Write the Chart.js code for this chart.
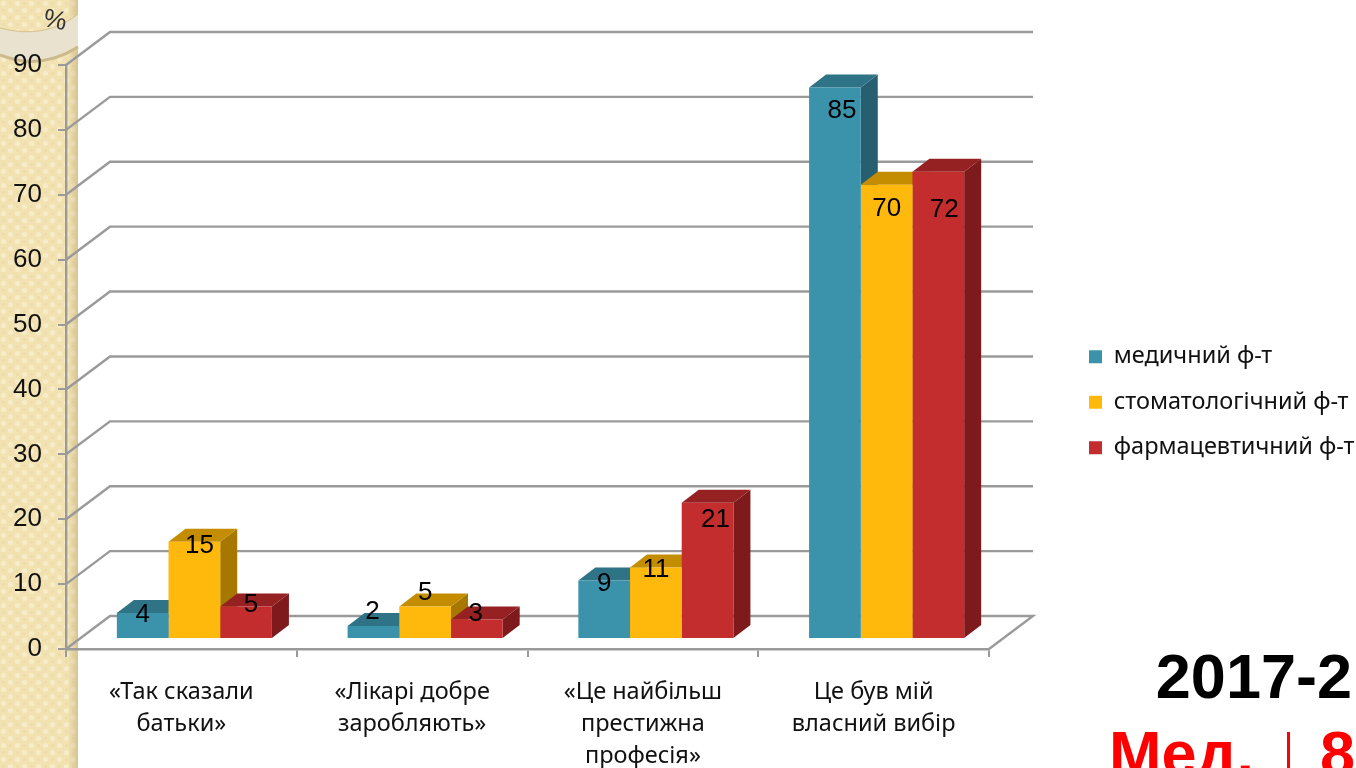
<!DOCTYPE html>
<html><head><meta charset="utf-8">
<style>html,body{margin:0;padding:0;background:#fff;overflow:hidden}canvas{display:block}</style>
<script src="https://cdn.jsdelivr.net/npm/chart.js@4/dist/chart.umd.min.js"></script>
</head><body><canvas id="c" width="1356" height="768"></canvas>
<script>
const categories = [["«Так сказали","батьки»"],["«Лікарі добре","заробляють»"],["«Це найбільш","престижна","професія»"],["Це був мій","власний вибір"]];
const medValues = [4,2,9,85];
const stomValues = [15,5,11,70];
const pharmValues = [5,3,21,72];
const seriesNames = ["медичний ф-т","стоматологічний ф-т","фармацевтичний ф-т"];
const yTicks = [0,10,20,30,40,50,60,70,80,90];

// styling / layout (not data)
const faceColors = ["#3A93AB","#FFB80C","#C32D2E"];
const topColors = ["#2F7387","#C48D00","#952122"];
const sideColors = ["#285F70","#A67800","#7E1A1B"];
const BAR_DX=13, BAR_DY=-10, DEPTH_X=17, DEPTH_Y=-13, WALL_X=44, WALL_Y=-33;
const labelNudge = [
  [[0,2],[-1,-14],[0,3],[7,23]],
  [[5,4],[0,-14],[0,2],[0,24]],
  [[5,-2],[-1,-6],[8,17],[6,38]]
];
const grey="#9A9A9A";

function makeTile(){
  const t=document.createElement('canvas');t.width=t.height=14;
  const g=t.getContext('2d');
  g.fillStyle='#F2E2B2';g.fillRect(0,0,14,14);
  g.fillStyle='#F7ECC8';
  g.beginPath();g.arc(3.5,3.5,2.6,0,7);g.fill();
  g.beginPath();g.arc(10.5,10.5,2.6,0,7);g.fill();
  g.fillStyle='#EDDCAA';
  g.beginPath();g.arc(10.5,3.5,1.5,0,7);g.fill();
  g.beginPath();g.arc(3.5,10.5,1.5,0,7);g.fill();
  return t;
}

const backdrop={id:'backdrop',
  beforeLayout(chart){
    const l=chart.legend;
    if(l && !l._wrapped){const f=l.fit;l.fit=function(){f.call(this);this.width=367;};l._wrapped=true;}
  },
  afterLayout(chart){
    const l=chart.legend;
    l.left=1067;l.right=1356;l.top=323;l.bottom=768;
  },
  beforeDraw(chart){
    const c=chart.ctx;c.save();
    c.fillStyle='#fff';c.fillRect(0,0,1356,768);
    c.fillStyle=c.createPattern(makeTile(),'repeat');c.fillRect(0,0,78,768);
    const g=c.createLinearGradient(68,0,78,0);
    g.addColorStop(0,'rgba(190,170,120,0)');g.addColorStop(1,'rgba(190,170,120,.55)');
    c.fillStyle=g;c.fillRect(68,0,10,768);
    // ornament band
    c.beginPath();c.moveTo(0,28);c.quadraticCurveTo(45,40,78,14);c.lineTo(78,46);c.quadraticCurveTo(40,70,0,54);c.closePath();
    c.fillStyle='#E8E2CF';c.fill();
    c.beginPath();c.moveTo(0,28);c.quadraticCurveTo(45,40,78,14);c.strokeStyle='#D6C08C';c.lineWidth=1;c.stroke();
    c.beginPath();c.moveTo(0,55);c.quadraticCurveTo(40,71,78,47);c.strokeStyle='#CDB98E';c.lineWidth=3;c.stroke();
    c.save();c.translate(55,21);c.rotate(0.2);c.fillStyle='#333';c.font='26px "Liberation Sans"';c.textAlign='center';c.textBaseline='middle';c.fillText('%',0,0);c.restore();
    // 3D wall
    const ya=chart.scales.y,a=chart.chartArea;
    c.strokeStyle=grey;c.lineWidth=2.4;c.lineJoin='miter';
    yTicks.forEach(v=>{
      const y=ya.getPixelForValue(v);
      c.beginPath();c.moveTo(a.left,y);c.lineTo(a.left+WALL_X,y+WALL_Y);c.lineTo(a.right+WALL_X,y+WALL_Y);
      if(v===0)c.lineTo(a.right,y);
      c.stroke();
    });
    c.restore();
  },
  beforeDatasetsDraw(chart){
    const c=chart.ctx;c.save();c.translate(BAR_DX,BAR_DY);
    for(let k=0;k<categories.length;k++){
      for(let d=0;d<3;d++){
        const b=chart.getDatasetMeta(d).data[k];
        const L=b.x-b.width/2,R=b.x+b.width/2,T=b.y,B=b.base;
        c.fillStyle=sideColors[d];
        c.beginPath();c.moveTo(R,T);c.lineTo(R+DEPTH_X,T+DEPTH_Y);c.lineTo(R+DEPTH_X,B+DEPTH_Y);c.lineTo(R,B);c.closePath();c.fill();
        c.fillStyle=topColors[d];
        c.beginPath();c.moveTo(L,T);c.lineTo(L+DEPTH_X,T+DEPTH_Y);c.lineTo(R+DEPTH_X,T+DEPTH_Y);c.lineTo(R,T);c.closePath();c.fill();
      }
    }
  },
  afterDatasetsDraw(chart){
    const c=chart.ctx;
    c.fillStyle='#000';c.font='26px "Liberation Sans"';c.textAlign='center';c.textBaseline='middle';
    for(let d=0;d<3;d++){
      const meta=chart.getDatasetMeta(d);
      meta.data.forEach((b,k)=>{
        const n=labelNudge[d][k];
        c.fillText(String(chart.data.datasets[d].data[k]),b.x+n[0],b.y+n[1]);
      });
    }
    c.restore();
  },
  afterDraw(chart){
    const c=chart.ctx;c.save();
    c.textBaseline='alphabetic';
    c.font='bold 63px "Liberation Sans"';c.fillStyle='#000';c.textAlign='right';
    c.fillText('2017-2',1352,698);
    c.fillStyle='#FF0000';
    c.fillText('8',1355,775);
    c.textAlign='left';
    c.fillText('Мед.',1109,775);
    c.fillRect(1287,732,3,36);
    c.restore();
  }
};

new Chart(document.getElementById('c'),{
  type:'bar',
  data:{labels:categories,datasets:[
    {label:seriesNames[0],data:medValues,backgroundColor:faceColors[0],clip:false},
    {label:seriesNames[1],data:stomValues,backgroundColor:faceColors[1],clip:false},
    {label:seriesNames[2],data:pharmValues,backgroundColor:faceColors[2],clip:false}
  ]},
  plugins:[backdrop],
  options:{
    responsive:false,animation:false,
    layout:{padding:{top:65,left:0,right:0,bottom:0}},
    datasets:{bar:{categoryPercentage:0.672,barPercentage:1,borderWidth:0}},
    plugins:{
      tooltip:{enabled:false},
      title:{display:false},
      legend:{display:true,position:'right',align:'start',
        labels:{boxWidth:13,boxHeight:13,padding:22,color:'#111',font:{family:'"Noto Sans"',size:23.5}}}
    },
    scales:{
      x:{
        afterFit(s){s.height=119;},
        offset:true,
        border:{display:true,color:grey,width:2.4},
        grid:{display:true,color:grey,lineWidth:2,drawOnChartArea:false,drawTicks:true,tickLength:8,offset:true},
        ticks:{autoSkip:false,maxRotation:0,minRotation:0,color:'#111',padding:19,font:{family:'"Noto Sans"',size:23.5,lineHeight:1.36}}
      },
      y:{
        min:0,max:90,
        afterFit(s){s.width=66;},
        border:{display:true,color:grey,width:2.4},
        grid:{display:true,color:grey,lineWidth:2,drawOnChartArea:false,drawTicks:true,tickLength:8},
        ticks:{stepSize:10,color:'#111',padding:16,font:{family:'"Liberation Sans"',size:26}}
      }
    }
  }
});
</script></body></html>
